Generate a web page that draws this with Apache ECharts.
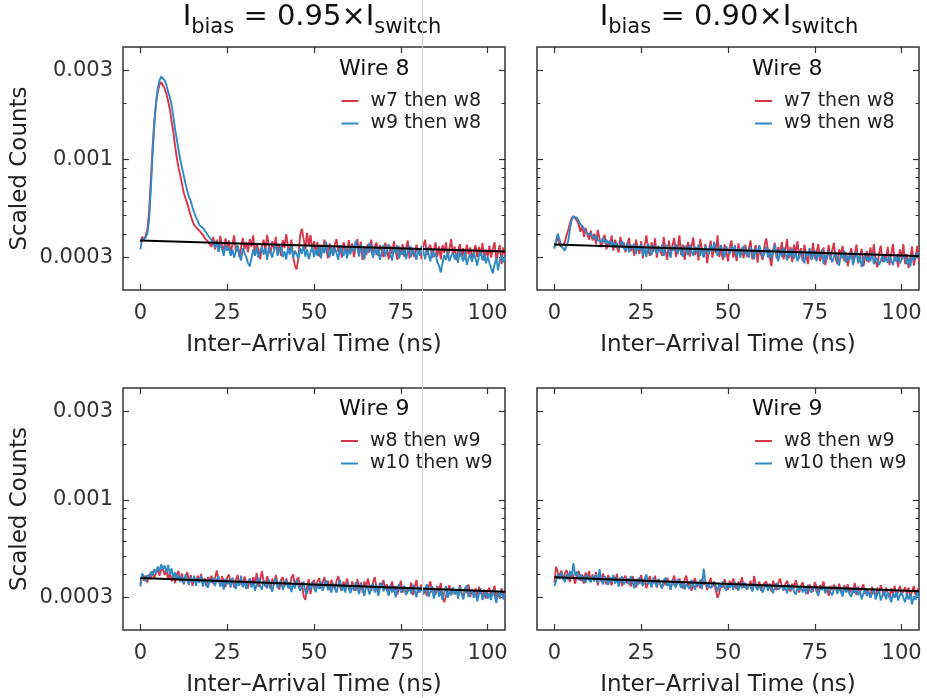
<!DOCTYPE html>
<html><head><meta charset="utf-8">
<script src="https://cdn.jsdelivr.net/npm/echarts@6/dist/echarts.min.js"></script>
<style>html,body{margin:0;padding:0;background:#fff}#c{width:927px;height:698px}</style>
</head><body><div id="c"></div>
<script>
// ---- data (counts in units of 1e-6, time bins every 0.5 ns from 0 to 105 ns) ----
const TIME_STEP_NS = 0.5;
const COUNT_UNIT = 1e-6;
const X_TICKS = [0, 25, 50, 75, 100];
const Y_TICKS = [0.0003, 0.001, 0.003];
const Y_TICK_LABELS = ['0.0003', '0.001', '0.003'];
const Y_MINOR_TICKS = [0.0004, 0.0005, 0.0006, 0.0007, 0.0008, 0.0009, 0.002];
const COL_TITLES = ['0.95', '0.90'];
const FIT_X = [0, 105];

// Wire 8, Ibias = 0.95 Iswitch
const W8_095_W7 = [
360,385,372,390,420,520,760,1150,1600,2000,2300,2500,2600,2580,2400,2250,2050,1850,1600,1400,1180,1020,900,820,740,660,620,580,540,500,470,445,440,425,420,405,395,380,372,362,355,
340,385,330,372,322,390,348,318,378,336,
368,315,350,392,322,345,300,338,380,330,
362,318,375,340,392,305,352,330,292,345,
372,322,395,345,312,365,332,385,315,350,
305,370,335,398,342,318,372,300,270,258,
295,392,425,378,330,405,345,395,322,365,
318,362,302,350,318,372,338,295,355,330,
308,352,375,320,345,298,360,335,312,370,
322,355,300,342,375,315,362,290,338,308,
352,318,372,298,340,360,305,348,325,300,
358,330,292,345,312,365,322,290,342,310,
352,302,335,368,295,340,318,300,350,312,
335,292,345,372,308,336,350,298,325,360,
302,342,292,348,315,360,298,332,375,308,
342,288,325,352,300,335,292,350,310,338,
292,322,348,300,340,305,358,288,330,302,
345,298,332,360,285,320,348,275,338,310];
const W8_095_W9 = [
330,372,365,380,400,470,680,1050,1500,2000,2400,2650,2780,2800,2650,2500,2300,2150,1950,1700,1450,1280,1120,1000,900,820,740,680,630,600,555,520,490,470,445,440,430,420,405,392,380,370,360,
338,365,320,352,332,305,348,325,
338,305,330,298,322,348,310,288,335,315,
300,278,268,295,330,305,338,298,320,342,
310,335,290,342,315,298,330,352,305,328,
342,300,322,292,335,310,345,298,325,318,
295,335,312,348,302,330,292,318,342,300,
330,305,350,295,342,315,362,322,300,348,
305,335,315,290,348,320,305,340,295,332,
310,348,322,368,335,302,350,318,292,340,
315,358,328,298,345,308,335,290,318,348,
302,330,352,310,288,338,315,348,295,325,
308,340,292,322,345,300,328,315,290,335,
305,345,322,292,338,310,285,328,300,318,
282,270,248,278,308,290,322,285,305,315,
292,315,280,325,300,285,320,272,298,310,
282,318,295,270,305,325,288,312,278,302,
280,262,245,275,298,255,290,308,282,300];
const FIT_W8_095 = [368, 321];

// Wire 8, Ibias = 0.90 Iswitch
const W8_090_W7 = [
338,362,385,352,340,338,360,392,420,455,485,
498,490,470,448,410,445,385,430,398,372,
415,368,400,352,420,378,340,372,395,330,
365,348,392,325,372,340,318,385,338,360,
318,352,380,322,348,305,372,338,312,365,
295,348,392,328,305,360,320,378,298,342,
350,305,385,325,290,368,315,345,380,300,
332,392,308,350,290,328,362,302,342,382,
308,340,288,375,330,300,352,278,325,368,
298,345,315,392,300,335,290,350,325,285,
340,368,298,330,285,355,310,338,295,350,
300,330,368,292,322,348,280,335,310,290,
345,378,330,302,268,328,358,295,340,310,
362,292,325,375,295,340,282,350,315,365,
295,335,285,350,310,275,332,300,358,292,
320,352,285,312,338,272,305,348,290,325,
358,295,275,330,310,345,285,318,268,305,
335,288,312,350,278,305,332,268,300,322,
280,338,298,352,285,265,315,345,282,310,
290,340,272,312,352,285,302,265,330,292,
352,275,312,262,298,342,270,300,345,285];
const W8_090_W9 = [
333,370,400,372,345,335,325,322,365,425,475,
492,495,488,478,450,440,428,412,398,390,
402,385,375,392,370,378,362,382,355,372,
352,368,345,362,338,358,332,352,365,335,
325,358,318,348,332,355,312,345,328,352,
305,342,300,355,322,308,348,330,312,345,
318,350,305,338,348,318,298,342,325,352,
312,340,322,302,345,332,308,350,322,305,
342,318,350,305,335,298,345,322,312,348,
320,362,335,305,332,348,315,298,342,325,
312,340,322,348,302,335,298,320,345,310,
328,298,340,318,292,335,312,348,322,300,
315,342,298,332,295,322,350,305,285,330,
300,338,318,288,325,302,335,295,318,285,
305,325,295,278,322,302,335,290,308,325,
285,318,300,330,275,308,292,322,305,282,
302,318,288,270,312,295,325,280,305,290,
318,272,298,322,280,305,265,295,315,285,
302,285,318,275,298,290,272,288,308,282,
298,280,305,288,272,300,285,312,278,292,
285,308,275,295,268,305,288,292,318,298];
const FIT_W8_090 = [350, 304];

// Wire 9, Ibias = 0.95 Iswitch
const W9_095_W8 = [
352,398,368,392,360,398,375,415,382,405,425,
392,418,430,395,422,372,410,365,392,358,
398,415,368,402,352,388,410,362,395,345,
385,358,392,368,400,350,380,342,385,362,
392,352,378,418,372,345,390,362,340,382,
398,355,378,338,372,395,350,378,342,388,
362,335,378,350,385,355,405,340,372,415,
365,342,390,355,332,378,348,395,360,330,
372,385,342,378,352,335,382,398,348,370,
385,340,362,305,290,340,375,312,358,372,
335,365,380,335,358,385,342,368,328,372,
350,332,368,390,340,325,365,338,378,345,
325,365,340,325,375,335,360,318,365,338,
378,345,325,362,385,335,318,358,340,372,
332,352,318,340,365,322,345,310,338,368,
318,345,312,338,325,360,308,340,372,318,
335,352,318,330,305,342,365,318,338,310,
345,322,358,305,282,278,330,348,308,338,
312,328,305,348,318,298,338,315,352,302,
330,312,335,298,342,318,305,330,295,325,
338,305,322,345,300,318,295,335,312,302];
const W9_095_W10 = [
342,402,388,365,395,378,412,392,425,402,438,
415,452,425,445,408,448,398,428,382,408,
372,395,362,388,355,398,368,350,385,362,
392,345,380,358,390,342,372,352,338,375,
358,382,345,370,390,342,365,330,378,352,
372,338,382,355,332,368,345,392,340,365,
332,362,378,338,365,325,352,382,345,330,
370,352,335,375,340,322,362,380,335,355,
368,328,350,372,335,362,320,355,335,372,
345,325,340,365,322,312,348,330,362,338,
320,355,332,365,325,345,370,328,345,318,
358,335,318,352,372,325,348,318,358,335,
315,350,325,362,338,312,355,332,305,348,
335,310,345,355,318,348,305,335,360,322,
345,328,305,350,318,342,300,332,352,318,
322,345,308,315,338,312,350,325,300,340,
318,342,310,332,352,302,322,345,295,320,
340,302,325,290,318,345,298,322,308,338,
310,332,295,342,312,292,328,348,300,318,
332,298,318,285,312,335,290,308,325,295,
315,290,330,305,280,318,300,325,292,312];
const FIT_W9_095 = [381, 321];

// Wire 9, Ibias = 0.90 Iswitch
const W9_090_W8 = [
360,438,410,388,418,372,402,420,392,362,412,
385,355,398,415,368,398,355,408,380,415,
362,398,370,410,348,392,365,402,375,352,
395,368,348,388,365,400,352,382,345,378,
392,355,378,342,390,368,338,378,355,395,
345,378,335,365,390,348,360,392,338,375,
352,335,372,348,382,360,330,368,392,345,
362,378,348,335,370,392,345,362,325,355,
380,340,362,335,378,350,365,328,355,382,
340,365,325,298,318,352,338,375,345,330,
368,345,378,350,332,365,345,385,338,358,
332,345,368,325,390,352,335,365,325,348,
340,365,335,355,322,368,342,328,358,378,
345,325,352,368,338,322,355,335,370,345,
318,345,362,325,340,312,352,335,322,362,
342,320,348,335,365,325,340,305,345,328,
350,335,320,355,328,310,348,325,352,315,
338,318,358,308,342,322,335,352,312,330,
322,305,342,318,302,338,315,348,325,305,
338,318,298,335,310,345,302,322,345,308,
325,340,312,338,298,322,345,308,325,338];
const W9_090_W10 = [
345,368,400,375,408,382,362,398,372,415,390,
458,392,412,370,398,365,392,358,395,372,
362,392,365,398,358,425,375,352,388,368,
350,385,362,395,355,380,342,372,388,352,
368,378,350,390,362,335,375,348,385,360,
345,375,398,352,368,338,382,358,342,378,
352,335,368,382,345,358,330,372,350,338,
375,355,338,365,330,352,345,332,372,350,
330,362,345,372,332,428,362,340,352,335,
338,362,345,322,355,338,365,342,325,358,
338,355,328,362,345,325,358,335,362,340,
330,352,342,322,358,340,328,348,335,318,
340,355,325,348,335,315,342,358,330,322,
348,328,340,315,352,332,345,322,310,338,
328,345,318,338,312,350,330,318,335,345,
322,305,338,328,345,315,332,342,318,308,
330,345,312,335,322,302,342,318,332,312,
302,330,315,340,308,325,292,315,335,305,
322,298,315,335,292,312,325,288,308,325,
292,318,305,282,315,298,325,288,308,318,
298,282,315,292,312,275,305,290,322,295];
const FIT_W9_090 = [384, 323];

// ---- chart ----
const FONT = 'DejaVu Sans';
const RED = '#d6364b';
const BLUE = '#2f8ac4';
const AX = '#333333';
const lg = Math.log10;
const YMIN = lg(0.0002), YMAX = lg(0.004);

const panels = [
  {grid: {left: 123, top: 47, width: 382, height: 243}, wire: 'Wire 8', names: ['w7 then w8', 'w9 then w8'],
   red: W8_095_W7, blue: W8_095_W9, fit: FIT_W8_095, leftCol: true, legend: [341.5, 90], wireXY: [339, 69]},
  {grid: {left: 537, top: 47, width: 382, height: 243}, wire: 'Wire 8', names: ['w7 then w8', 'w9 then w8'],
   red: W8_090_W7, blue: W8_090_W9, fit: FIT_W8_090, leftCol: false, legend: [755, 90], wireXY: [752, 69]},
  {grid: {left: 123, top: 388, width: 382, height: 242}, wire: 'Wire 9', names: ['w8 then w9', 'w10 then w9'],
   red: W9_095_W8, blue: W9_095_W10, fit: FIT_W9_095, leftCol: true, legend: [341, 430], wireXY: [339, 409]},
  {grid: {left: 537, top: 388, width: 382, height: 243}, wire: 'Wire 9', names: ['w8 then w9', 'w10 then w9'],
   red: W9_090_W8, blue: W9_090_W10, fit: FIT_W9_090, leftCol: false, legend: [755, 430], wireXY: [752, 409]}
];

const toPts = arr => arr.map((c, i) => [i * TIME_STEP_NS, lg(c * COUNT_UNIT)]);
const fitPts = f => FIT_X.map((x, i) => [x, lg(f[i] * COUNT_UNIT)]);
const majorLog = Y_TICKS.map(lg);
const minorLog = Y_MINOR_TICKS.map(lg);
const yFmt = v => {
  for (let i = 0; i < majorLog.length; i++) if (Math.abs(majorLog[i] - v) < 1e-6) return Y_TICK_LABELS[i];
  return '';
};

const grid = [], xAxis = [], yAxis = [], series = [], legend = [], graphic = [];
panels.forEach((p, k) => {
  grid.push(Object.assign({show: true, borderColor: AX, borderWidth: 1.5, backgroundColor: '#fff'}, p.grid));
  const xBase = {type: 'value', gridIndex: k, min: -5, max: 105, splitLine: {show: false},
    axisLine: {show: false, onZero: false}};
  xAxis.push(Object.assign({}, xBase, {position: 'bottom',
    axisTick: {show: true, inside: true, length: 6, customValues: X_TICKS, lineStyle: {color: AX, width: 1.2}},
    axisLabel: {show: true, customValues: X_TICKS, margin: 13, fontSize: 21, fontFamily: FONT, color: AX},
    name: 'Inter\u2013Arrival Time (ns)', nameLocation: 'middle', nameGap: 44,
    nameTextStyle: {fontSize: 23, fontFamily: FONT, color: '#222'}}));
  xAxis.push(Object.assign({}, xBase, {position: 'top',
    axisTick: {show: true, inside: true, length: 6, customValues: X_TICKS, lineStyle: {color: AX, width: 1.2}},
    axisLabel: {show: false}}));
  const yBase = {type: 'value', gridIndex: k, min: YMIN, max: YMAX, splitLine: {show: false},
    axisLine: {show: false, onZero: false}};
  ['left', 'right'].forEach(pos => {
    const showLab = pos === 'left' && p.leftCol;
    yAxis.push(Object.assign({}, yBase, {position: pos,
      axisTick: {show: true, inside: true, length: 6, customValues: majorLog, lineStyle: {color: AX, width: 1.2}},
      axisLabel: {show: showLab, customValues: majorLog, formatter: yFmt, margin: 10, fontSize: 21, fontFamily: FONT, color: AX},
      name: showLab ? 'Scaled Counts' : '', nameLocation: 'middle', nameGap: 91,
      nameTextStyle: {fontSize: 23, fontFamily: FONT, color: '#222'}}));
    yAxis.push(Object.assign({}, yBase, {position: pos,
      axisTick: {show: true, inside: true, length: 3.5, customValues: minorLog, lineStyle: {color: AX, width: 1}},
      axisLabel: {show: false}}));
  });
  const yi = k * 4, xi = k * 2;
  series.push({type: 'line', name: p.names[0], xAxisIndex: xi, yAxisIndex: yi, data: toPts(p.red),
    symbol: 'none', lineStyle: {color: RED, width: 1.9}, itemStyle: {color: RED}, z: 2});
  series.push({type: 'line', name: p.names[1], xAxisIndex: xi, yAxisIndex: yi, data: toPts(p.blue),
    symbol: 'none', lineStyle: {color: BLUE, width: 1.9}, itemStyle: {color: BLUE}, z: 3});
  series.push({type: 'line', name: 'fit', xAxisIndex: xi, yAxisIndex: yi, data: fitPts(p.fit),
    symbol: 'none', lineStyle: {color: '#000', width: 2}, itemStyle: {color: '#000'}, z: 4});
  legend.push({show: true, left: p.legend[0], top: p.legend[1], orient: 'vertical', data: p.names,
    icon: 'rect', itemWidth: 17, itemHeight: 2, itemGap: 0.5, padding: 0, selectedMode: false,
    textStyle: {fontFamily: FONT, fontSize: 19, color: '#222', lineHeight: 22, padding: [0, 0, 0, 7]}});
  graphic.push({type: 'text', x: p.wireXY[0], y: p.wireXY[1], z: 50,
    style: {text: p.wire, fontSize: 22, fontFamily: FONT, fill: '#111', verticalAlign: 'middle', textVerticalAlign: 'middle'}});
});
graphic.push({type: 'line', shape: {x1: 422.5, y1: 0, x2: 422.5, y2: 698}, style: {stroke: '#cccccc', lineWidth: 1}, z: 100});

const titleRich = {
  n: {fontSize: 29, fontFamily: FONT, fontWeight: 'normal', color: '#111', lineHeight: 32, verticalAlign: 'top'},
  s: {fontSize: 21, fontFamily: FONT, fontWeight: 'normal', color: '#111', lineHeight: 21, padding: [14, 0, 0, 0], verticalAlign: 'top'}
};
const title = COL_TITLES.map((v, i) => ({
  text: '{n|I}{s|bias}{n| = ' + v + '\u00d7I}{s|switch}',
  left: i === 0 ? 312 : 729, top: 3, textAlign: 'center', padding: 0,
  textStyle: {fontWeight: 'normal', rich: titleRich}
}));

const chart = echarts.init(document.getElementById('c'), null, {renderer: 'canvas'});
chart.setOption({animation: false, backgroundColor: '#fff', title, grid, xAxis, yAxis, series, legend, graphic});
</script></body></html>
